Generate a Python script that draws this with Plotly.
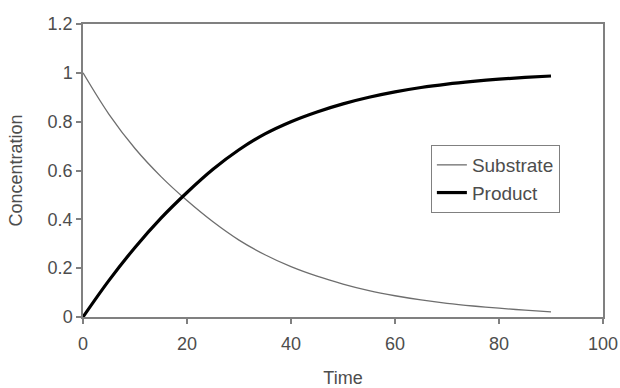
import plotly.graph_objects as go

time = [0, 5, 10, 15, 20, 25, 30, 35, 40, 45, 50, 55, 60, 65, 70, 75, 80, 85, 90]
substrate = [1.0, 0.83, 0.69, 0.575, 0.477, 0.39, 0.315, 0.255, 0.206, 0.167, 0.135,
             0.108, 0.087, 0.07, 0.056, 0.045, 0.036, 0.028, 0.021]
product = [0.0, 0.15, 0.285, 0.405, 0.51, 0.605, 0.685, 0.75, 0.80, 0.84, 0.873,
           0.90, 0.922, 0.94, 0.954, 0.965, 0.974, 0.981, 0.987]

x_ticks = [0, 20, 40, 60, 80, 100]
y_ticks = [0, 0.2, 0.4, 0.6, 0.8, 1.0, 1.2]
y_labels = ["0", "0.2", "0.4", "0.6", "0.8", "1", "1.2"]

font_family = "Liberation Sans, Arial, sans-serif"
gray = "#808080"
text_col = "#4d4d4d"
fs = 18

fig = go.Figure()
fig.add_trace(go.Scatter(x=time, y=substrate, mode="lines", name="Substrate",
                         legendgroup="s", line=dict(color="#6e6e6e", width=1.3, shape="spline")))
fig.add_trace(go.Scatter(x=time, y=product, mode="lines", name="Product",
                         legendgroup="p", line=dict(color="#000000", width=3.2, shape="spline")))

fig.update_layout(
    width=620, height=388,
    margin=dict(l=83, r=17, t=24, b=71),
    paper_bgcolor="white", plot_bgcolor="white",
    font=dict(family=font_family, size=fs, color=text_col),
    showlegend=True,
    legend=dict(x=0.669, y=0.587, xanchor="left", yanchor="top",
                bordercolor=gray, borderwidth=1, bgcolor="white",
                font=dict(size=19, color=text_col),
                traceorder="grouped", tracegroupgap=0),
    xaxis=dict(range=[0, 100], tickvals=x_ticks, ticks="outside", ticklen=5,
               tickcolor=gray, tickwidth=1.5, showline=True, linecolor=gray,
               linewidth=1.5, mirror=True, showgrid=False, zeroline=False,
               automargin=False, ticklabelstandoff=5,
               title=dict(text="Time", font=dict(size=fs, color=text_col), standoff=20),
               tickfont=dict(size=fs, color=text_col)),
    yaxis=dict(range=[0, 1.2], tickvals=y_ticks, ticktext=y_labels, ticks="outside",
               ticklen=5, tickcolor=gray, tickwidth=1.5, showline=True, linecolor=gray,
               linewidth=1.5, mirror=True, showgrid=False, zeroline=False,
               automargin=False,
               title=dict(text="Concentration", font=dict(size=fs, color=text_col), standoff=20),
               tickfont=dict(size=fs, color=text_col)),
)

fig.write_html("out.html")
